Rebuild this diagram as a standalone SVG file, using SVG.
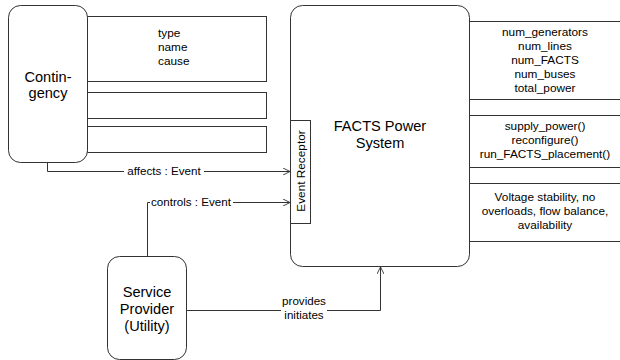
<svg xmlns="http://www.w3.org/2000/svg" width="620" height="360" viewBox="0 0 620 360">
<defs>
<style>
.box{fill:#fff;stroke:#333;stroke-width:1}
.ln{fill:none;stroke:#333;stroke-width:1}
.t{font-family:"Liberation Sans",Arial,sans-serif;font-size:11.8px;fill:#000}
.big{font-family:"Liberation Sans",Arial,sans-serif;font-size:14.6px;fill:#000;text-anchor:middle}
.c{text-anchor:middle}
.lbl{font-family:"Liberation Sans",Arial,sans-serif;font-size:11.6px;fill:#000}
</style>
<marker id="arr" viewBox="0 0 10 10" refX="10" refY="5" markerWidth="7" markerHeight="7" orient="auto" markerUnits="userSpaceOnUse">
<path d="M0,0 L10,5 L0,10" fill="none" stroke="#333" stroke-width="1.3"/>
</marker>
</defs>
<rect width="620" height="360" fill="#fff"/>

<g id="contingency-attrs">
<rect class="box" x="87.5" y="16.5" width="179" height="65"/>
<rect class="box" x="87.5" y="92.5" width="179" height="26"/>
<rect class="box" x="87.5" y="126.5" width="179" height="26"/>
<text class="t" x="158" y="37">type</text>
<text class="t" x="158" y="51">name</text>
<text class="t" x="158" y="65">cause</text>
</g>

<g id="contingency">
<rect class="box" x="8.5" y="5.5" width="79" height="157" rx="12"/>
<text class="big" x="48" y="82">Contin-</text>
<text class="big" x="48" y="98">gency</text>
</g>

<g id="facts-compartments">
<path class="ln" d="M469,21.5 H620 M469,99.5 H620 M469,115.5 H620 M469,167.5 H620 M469,183.5 H620 M469,241.5 H620"/>
<g class="t c">
<text x="545" y="36">num_generators</text>
<text x="545" y="50">num_lines</text>
<text x="545" y="64">num_FACTS</text>
<text x="545" y="78">num_buses</text>
<text x="545" y="92">total_power</text>
<text x="545" y="130">supply_power()</text>
<text x="545" y="144">reconfigure()</text>
<text x="545" y="158">run_FACTS_placement()</text>
<text x="545" y="201">Voltage stability, no</text>
<text x="545" y="215">overloads, flow balance,</text>
<text x="545" y="229">availability</text>
</g>
</g>

<g id="facts">
<rect class="box" x="290.5" y="5.5" width="179" height="261" rx="12"/>
<text class="big" x="380" y="131">FACTS Power</text>
<text class="big" x="380" y="148">System</text>
</g>

<g id="event-receptor">
<rect class="box" x="290.5" y="120.5" width="20" height="103"/>
<text class="t c" transform="translate(304.5,171) rotate(-90)">Event Receptor</text>
</g>

<g id="service-provider">
<rect class="box" x="107.5" y="256.5" width="79" height="103" rx="12"/>
<text class="big" x="147" y="297">Service</text>
<text class="big" x="147" y="314">Provider</text>
<text class="big" x="147" y="331">(Utility)</text>
</g>

<g id="connectors">
<path class="ln" d="M47.5,162 V171.5 H290" marker-end="url(#arr)"/>
<rect x="124" y="164" width="80" height="13" fill="#fff"/>
<text class="lbl c" x="164" y="175">affects : Event</text>

<path class="ln" d="M147.5,256 V202.5 H290" marker-end="url(#arr)"/>
<rect x="150" y="195" width="83" height="13" fill="#fff"/>
<text class="lbl c" x="191" y="206">controls : Event</text>

<path class="ln" d="M187,310.5 H380.5 V267" marker-end="url(#arr)"/>
<rect x="281" y="296" width="46" height="26" fill="#fff"/>
<text class="lbl c" x="304" y="305">provides</text>
<text class="lbl c" x="304" y="319">initiates</text>
</g>
</svg>
